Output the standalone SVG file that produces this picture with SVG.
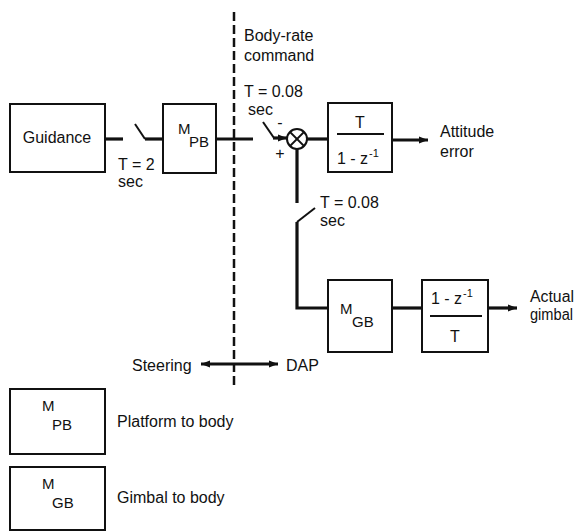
<svg xmlns="http://www.w3.org/2000/svg" width="578" height="532" viewBox="0 0 578 532">
<defs>
<style>
text{font-family:"Liberation Sans",Arial,sans-serif;font-size:16px;fill:#111}
.box{fill:#fff;stroke:#111;stroke-width:2}
.sig{fill:none;stroke:#111;stroke-width:3.2}
.thin{fill:none;stroke:#111;stroke-width:2}
.sub{font-size:15px}
.sup{font-size:11px}
</style>
<marker id="ah" viewBox="0 0 10 10" refX="10" refY="5" markerWidth="14" markerHeight="9" markerUnits="userSpaceOnUse" orient="auto-start-reverse">
<path d="M0,1 L10,5 L0,9 Z" fill="#111"/>
</marker>
</defs>
<rect width="578" height="532" fill="#fff"/>

<g id="divider">
<line x1="234" y1="12" x2="234" y2="388" stroke="#111" stroke-width="2.5" stroke-dasharray="9 4"/>
</g>

<g id="connectors">
<line class="sig" x1="105" y1="139" x2="123" y2="139"/>
<polyline class="thin" points="135,124 145,139"/>
<line class="sig" x1="145" y1="139" x2="163" y2="139"/>
<line class="sig" x1="216" y1="139" x2="253" y2="139"/>
<line class="thin" x1="263" y1="122" x2="274" y2="138"/>
<line class="sig" x1="273" y1="138" x2="287" y2="138" marker-end="url(#ah)"/>
<line class="sig" x1="307" y1="139" x2="328" y2="139"/>
<line class="sig" x1="392" y1="140" x2="428" y2="140" marker-end="url(#ah)"/>
<line class="sig" x1="297" y1="149" x2="297" y2="203"/>
<line class="thin" x1="297" y1="222" x2="315" y2="208"/>
<polyline class="sig" points="297,222 297,308 328,308"/>
<line class="sig" x1="392" y1="308" x2="422" y2="308"/>
<line class="sig" x1="488" y1="308" x2="517" y2="308" marker-end="url(#ah)"/>
<line class="sig" x1="201" y1="364" x2="278" y2="364" marker-start="url(#ah)" marker-end="url(#ah)"/>
</g>

<g id="guidance">
<rect class="box" x="10" y="104" width="95" height="68"/>
<text x="57" y="143" text-anchor="middle">Guidance</text>
</g>
<g id="switch1-label">
<text x="118" y="170">T = 2</text>
<text x="118" y="187">sec</text>
</g>

<g id="mpb">
<rect class="box" x="163" y="104" width="53" height="69"/>
<text x="178" y="134" class="sub">M</text>
<text x="189" y="147" class="sub">PB</text>
</g>

<g id="body-rate-label">
<text x="244" y="41">Body-rate</text>
<text x="244" y="61">command</text>
<text x="244" y="97">T = 0.08</text>
<text x="248" y="115">sec</text>
</g>

<g id="sum">
<circle cx="297" cy="139" r="10" fill="#fff" stroke="#111" stroke-width="2"/>
<line x1="290" y1="132" x2="304" y2="146" stroke="#111" stroke-width="1.8"/>
<line x1="304" y1="132" x2="290" y2="146" stroke="#111" stroke-width="1.8"/>
<text x="280" y="128" text-anchor="middle" font-size="13">-</text>
<text x="280" y="159" text-anchor="middle" font-size="13">+</text>
</g>

<g id="integrator">
<rect class="box" x="328" y="103" width="64" height="69"/>
<text x="360" y="128" text-anchor="middle">T</text>
<line x1="337" y1="134" x2="384" y2="134" stroke="#111" stroke-width="2"/>
<text x="337" y="164">1 - z</text>
<text x="369" y="157" class="sup">-1</text>
</g>

<g id="attitude-label">
<text x="440" y="137">Attitude</text>
<text x="440" y="157">error</text>
</g>

<g id="switch2-label">
<text x="320" y="208">T = 0.08</text>
<text x="320" y="226">sec</text>
</g>

<g id="mgb">
<rect class="box" x="328" y="280" width="64" height="72"/>
<text x="340" y="314" class="sub">M</text>
<text x="352" y="327" class="sub">GB</text>
</g>

<g id="differentiator">
<rect class="box" x="422" y="280" width="66" height="72"/>
<text x="431" y="304">1 - z</text>
<text x="463" y="297" class="sup">-1</text>
<line x1="430" y1="316" x2="482" y2="316" stroke="#111" stroke-width="2"/>
<text x="455" y="342" text-anchor="middle">T</text>
</g>

<g id="gimbal-label">
<text x="530" y="302" textLength="44" lengthAdjust="spacingAndGlyphs">Actual</text>
<text x="530" y="320" textLength="43" lengthAdjust="spacingAndGlyphs">gimbal</text>
</g>

<g id="steering-dap">
<text x="132" y="371">Steering</text>
<text x="286" y="371">DAP</text>
</g>

<g id="legend-mpb">
<rect class="box" x="10" y="389" width="95" height="65"/>
<text x="42" y="411" class="sub">M</text>
<text x="52" y="430" class="sub">PB</text>
<text x="117" y="427">Platform to body</text>
</g>

<g id="legend-mgb">
<rect class="box" x="10" y="467" width="95" height="63"/>
<text x="42" y="489" class="sub">M</text>
<text x="52" y="508" class="sub">GB</text>
<text x="117" y="503">Gimbal to body</text>
</g>
</svg>
